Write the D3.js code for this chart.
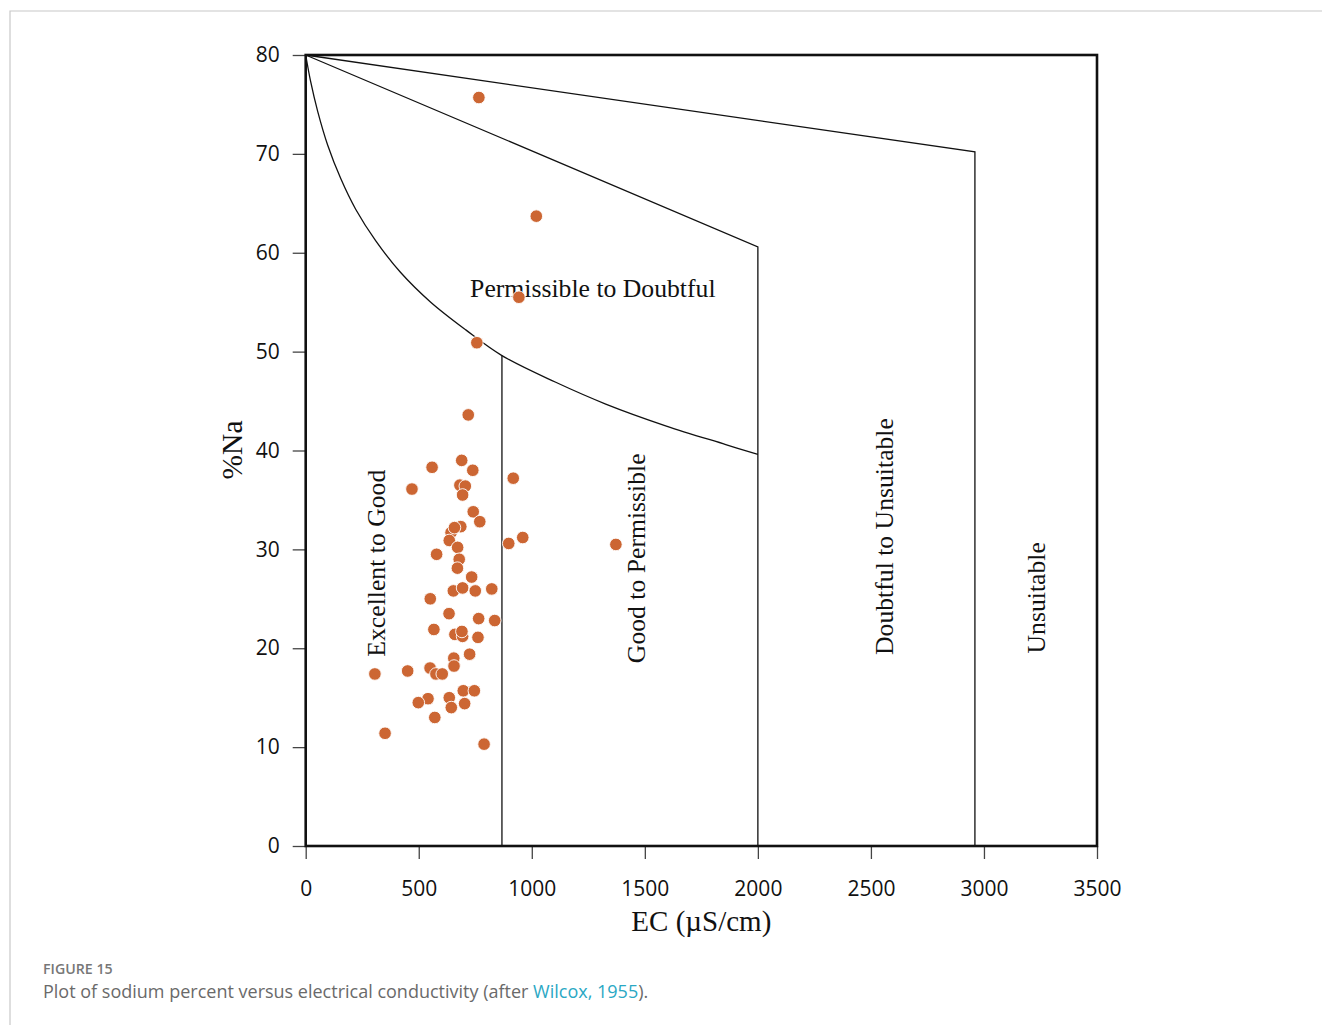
<!DOCTYPE html>
<html>
<head>
<meta charset="utf-8">
<script src="https://cdn.jsdelivr.net/npm/d3@7"></script>
<style>
  html, body { margin: 0; padding: 0; background: #fff; }
  svg { display: block; }
</style>
</head>
<body>
<svg id="chart" width="1322" height="1025"></svg>
<script>
// Sample measurements: electrical conductivity (µS/cm) and sodium percent
const ecValues = [
  766, 1020, 943, 757, 719, 690, 559, 739, 918, 470,
  682, 706, 694, 741, 770, 686, 643, 658, 635, 898,
  960, 672, 579, 679, 671, 1372, 734, 653, 694, 750,
  823, 551, 634, 765, 836, 567, 660, 694, 691, 762,
  725, 655, 656, 306, 451, 550, 576, 604, 697, 746,
  541, 498, 635, 644, 703, 571, 351, 789
];
const naPercent = [
  75.7, 63.7, 55.5, 50.9, 43.6, 39.0, 38.3, 38.0, 37.2, 36.1,
  36.5, 36.4, 35.5, 33.8, 32.8, 32.3, 31.7, 32.2, 30.9, 30.6,
  31.2, 30.2, 29.5, 29.0, 28.1, 30.5, 27.2, 25.8, 26.1, 25.8,
  26.0, 25.0, 23.5, 23.0, 22.8, 21.9, 21.4, 21.2, 21.7, 21.1,
  19.4, 19.0, 18.2, 17.4, 17.7, 18.0, 17.4, 17.4, 15.7, 15.7,
  14.9, 14.5, 15.0, 14.0, 14.4, 13.0, 11.4, 10.3
];

// Wilcox (1955) class boundaries, as [EC, %Na]
const curveBoundary = [
  [0, 80], [22, 77.3], [53, 74.3], [97, 70.9], [155, 67.5], [221, 64.4],
  [310, 61.2], [420, 58.0], [553, 55.0], [708, 52.2], [868, 49.6],
  [1106, 46.9], [1327, 44.7], [1592, 42.5], [1858, 40.6], [2000, 39.6]
];
const permissibleTop = [[0, 80], [2000, 60.6], [2000, 0]];
const unsuitableTop = [[0, 80], [2960, 70.2], [2960, 0]];
const goodLimit = [[868, 0], [868, 49.6]];

const xTicks = [0, 500, 1000, 1500, 2000, 2500, 3000, 3500];
const yTicks = [0, 10, 20, 30, 40, 50, 60, 70, 80];

const classLabels = [
  { text: "Permissible to Doubtful", ec: 1270, na: 56.4, rotate: false },
  { text: "Excellent to Good", ec: 313, na: 28.6, rotate: true },
  { text: "Good to Permissible", ec: 1465, na: 29.1, rotate: true },
  { text: "Doubtful to Unsuitable", ec: 2558, na: 31.3, rotate: true },
  { text: "Unsuitable", ec: 3232, na: 25.1, rotate: true }
];

const svg = d3.select("#chart");
const plotLeft = 305.7, plotRight = 1097, plotTop = 55, plotBottom = 846;

const x = d3.scaleLinear().domain([0, 3500]).range([plotLeft, plotRight]);
const y = d3.scaleLinear().domain([0, 80]).range([plotBottom, plotTop]);

// outer figure frame
svg.append("path")
  .attr("d", `M10,1025 L10,11 L1322,11`)
  .attr("fill", "none").attr("stroke", "#c8c8c8").attr("stroke-width", 1.2);

// axes
const serif = "'Liberation Serif', 'Times New Roman', serif";
const sans = "'Open Sans', sans-serif";

const yAxis = svg.append("g")
  .attr("transform", `translate(${plotLeft},0)`)
  .call(d3.axisLeft(y).tickValues(yTicks).tickFormat(d3.format("d"))
    .tickSize(13).tickSizeOuter(0).tickPadding(13));
const xAxis = svg.append("g")
  .attr("transform", `translate(0,${plotBottom})`)
  .call(d3.axisBottom(x).tickValues(xTicks).tickFormat(d3.format("d"))
    .tickSize(13).tickSizeOuter(0).tickPadding(22));
[yAxis, xAxis].forEach(g => {
  g.select(".domain").remove();
  g.selectAll(".tick line").attr("stroke", "#444").attr("stroke-width", 1.3);
  g.selectAll(".tick text").attr("fill", "#111").style("font-family", sans).style("font-size", "21px");
});

// boundary lines
const line = d3.line().x(d => x(d[0])).y(d => y(d[1]));
const boundaryStyle = sel => sel.attr("fill", "none").attr("stroke", "#111").attr("stroke-width", 1.3);
svg.append("path").datum(curveBoundary)
  .attr("d", line.curve(d3.curveCatmullRom.alpha(0.5))).call(boundaryStyle);
line.curve(d3.curveLinear);
[permissibleTop, unsuitableTop, goodLimit].forEach(pts => {
  svg.append("path").datum(pts).attr("d", line).call(boundaryStyle);
});

// plot frame
svg.append("rect")
  .attr("x", plotLeft).attr("y", plotTop)
  .attr("width", plotRight - plotLeft).attr("height", plotBottom - plotTop)
  .attr("fill", "none").attr("stroke", "#111").attr("stroke-width", 2.6);

// class labels
classLabels.forEach(l => {
  const t = svg.append("text")
    .attr("font-family", serif).attr("font-size", 25.7).attr("fill", "#111")
    .attr("text-anchor", "middle").attr("dominant-baseline", "central")
    .text(l.text);
  if (l.rotate) {
    t.attr("transform", `translate(${x(l.ec)},${y(l.na)}) rotate(-90)`);
  } else {
    t.attr("x", x(l.ec)).attr("y", y(l.na));
  }
});

// sample points
const samples = ecValues.map((ec, i) => ({ ec, na: naPercent[i] }));
svg.append("g").selectAll("circle").data(samples).join("circle")
  .attr("cx", d => x(d.ec)).attr("cy", d => y(d.na)).attr("r", 6.3)
  .attr("fill", "#cc6633").attr("stroke", "#fff").attr("stroke-width", 0.9);

// axis titles
svg.append("text")
  .attr("x", x(1750)).attr("y", 921)
  .attr("text-anchor", "middle").attr("dominant-baseline", "central")
  .attr("font-family", serif).attr("font-size", 29).attr("fill", "#111")
  .text("EC (µS/cm)");
svg.append("text")
  .attr("transform", `translate(232,450) rotate(-90)`)
  .attr("text-anchor", "middle").attr("dominant-baseline", "central")
  .attr("font-family", serif).attr("font-size", 29.5).attr("fill", "#111")
  .text("%Na");

// caption
svg.append("text")
  .attr("x", 43).attr("y", 974)
  .attr("font-family", "'Open Sans', sans-serif").attr("font-size", 14.2).attr("font-weight", 600)
  .attr("fill", "#777")
  .text("FIGURE 15");
const cap = svg.append("text")
  .attr("x", 43).attr("y", 998)
  .attr("font-family", "'Open Sans', sans-serif").attr("font-size", 18)
  .attr("fill", "#6a6a6a");
cap.append("tspan").text("Plot of sodium percent versus electrical conductivity (after ");
cap.append("tspan").attr("fill", "#2aa8c4").text("Wilcox, 1955");
cap.append("tspan").text(").");
</script>
</body>
</html>
